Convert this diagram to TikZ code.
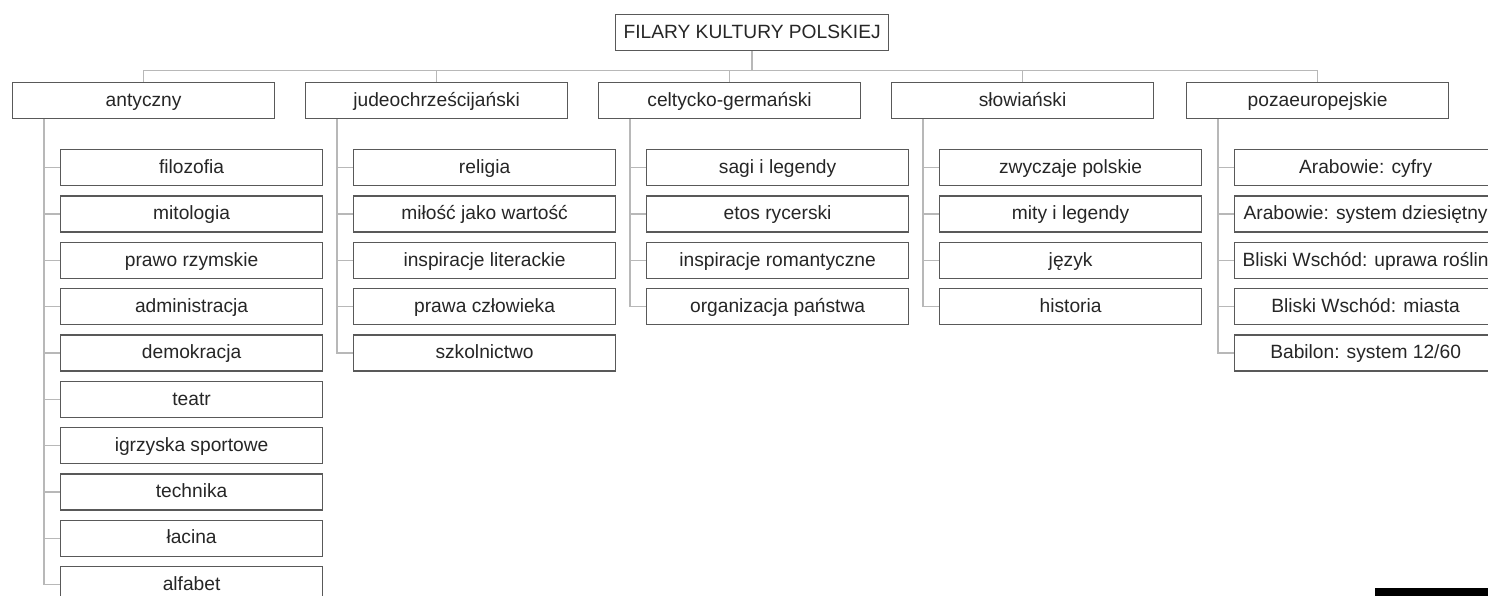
\documentclass[tikz,border=0pt]{standalone}
\usepackage{fontspec}
\setmainfont{Liberation Sans}
\begin{document}
\begin{tikzpicture}[x=1pt,y=-1pt,
  box/.style={draw=black!65, line width=1.2pt, fill=white, inner sep=0pt, text height=14pt, text depth=2.5pt, minimum height=36pt, minimum width=262pt, anchor=north west, text=black!85, font=\fontsize{19.2}{21}\selectfont},
  conn/.style={draw=black!28, line width=1.3pt}]
\useasboundingbox (0,0) rectangle (1488,596);
\clip (0,0) rectangle (1488,596);
\node[box, minimum width=273pt] (root) at (615,14) {FILARY KULTURY POLSKIEJ};
\foreach \i/\x/\t in {1/12/antyczny,2/305/judeochrześcijański,3/598/celtycko-germański,4/891/słowiański,5/1186/pozaeuropejskie}{
  \node[box] (p\i) at (\x,82) {\t};
  \draw[conn] (root.south) -- +(0,19) -| (p\i.north);
}
\newcommand{\kids}[2]{%
  \foreach \t [count=\k from 0] in {#2}{
    \node[box] (c#1-\k) at ([xshift=48pt]p#1.south west |- 0,{149+46.33*\k}) {\t};
    \draw[conn] ([xshift=32pt]p#1.south west) |- (c#1-\k.west);
  }}
\kids{1}{filozofia,mitologia,prawo rzymskie,administracja,demokracja,teatr,igrzyska sportowe,technika,łacina,alfabet}
\kids{2}{religia,miłość jako wartość,inspiracje literackie,prawa człowieka,szkolnictwo}
\kids{3}{sagi i legendy,etos rycerski,inspiracje romantyczne,organizacja państwa}
\kids{4}{zwyczaje polskie,mity i legendy,język,historia}
\kids{5}{Arabowie: cyfry,Arabowie: system dziesiętny,Bliski Wschód: uprawa roślin,Bliski Wschód: miasta,Babilon: system 12/60}
\fill[black] (1375,588) rectangle (1488,596);
\end{tikzpicture}
\end{document}
